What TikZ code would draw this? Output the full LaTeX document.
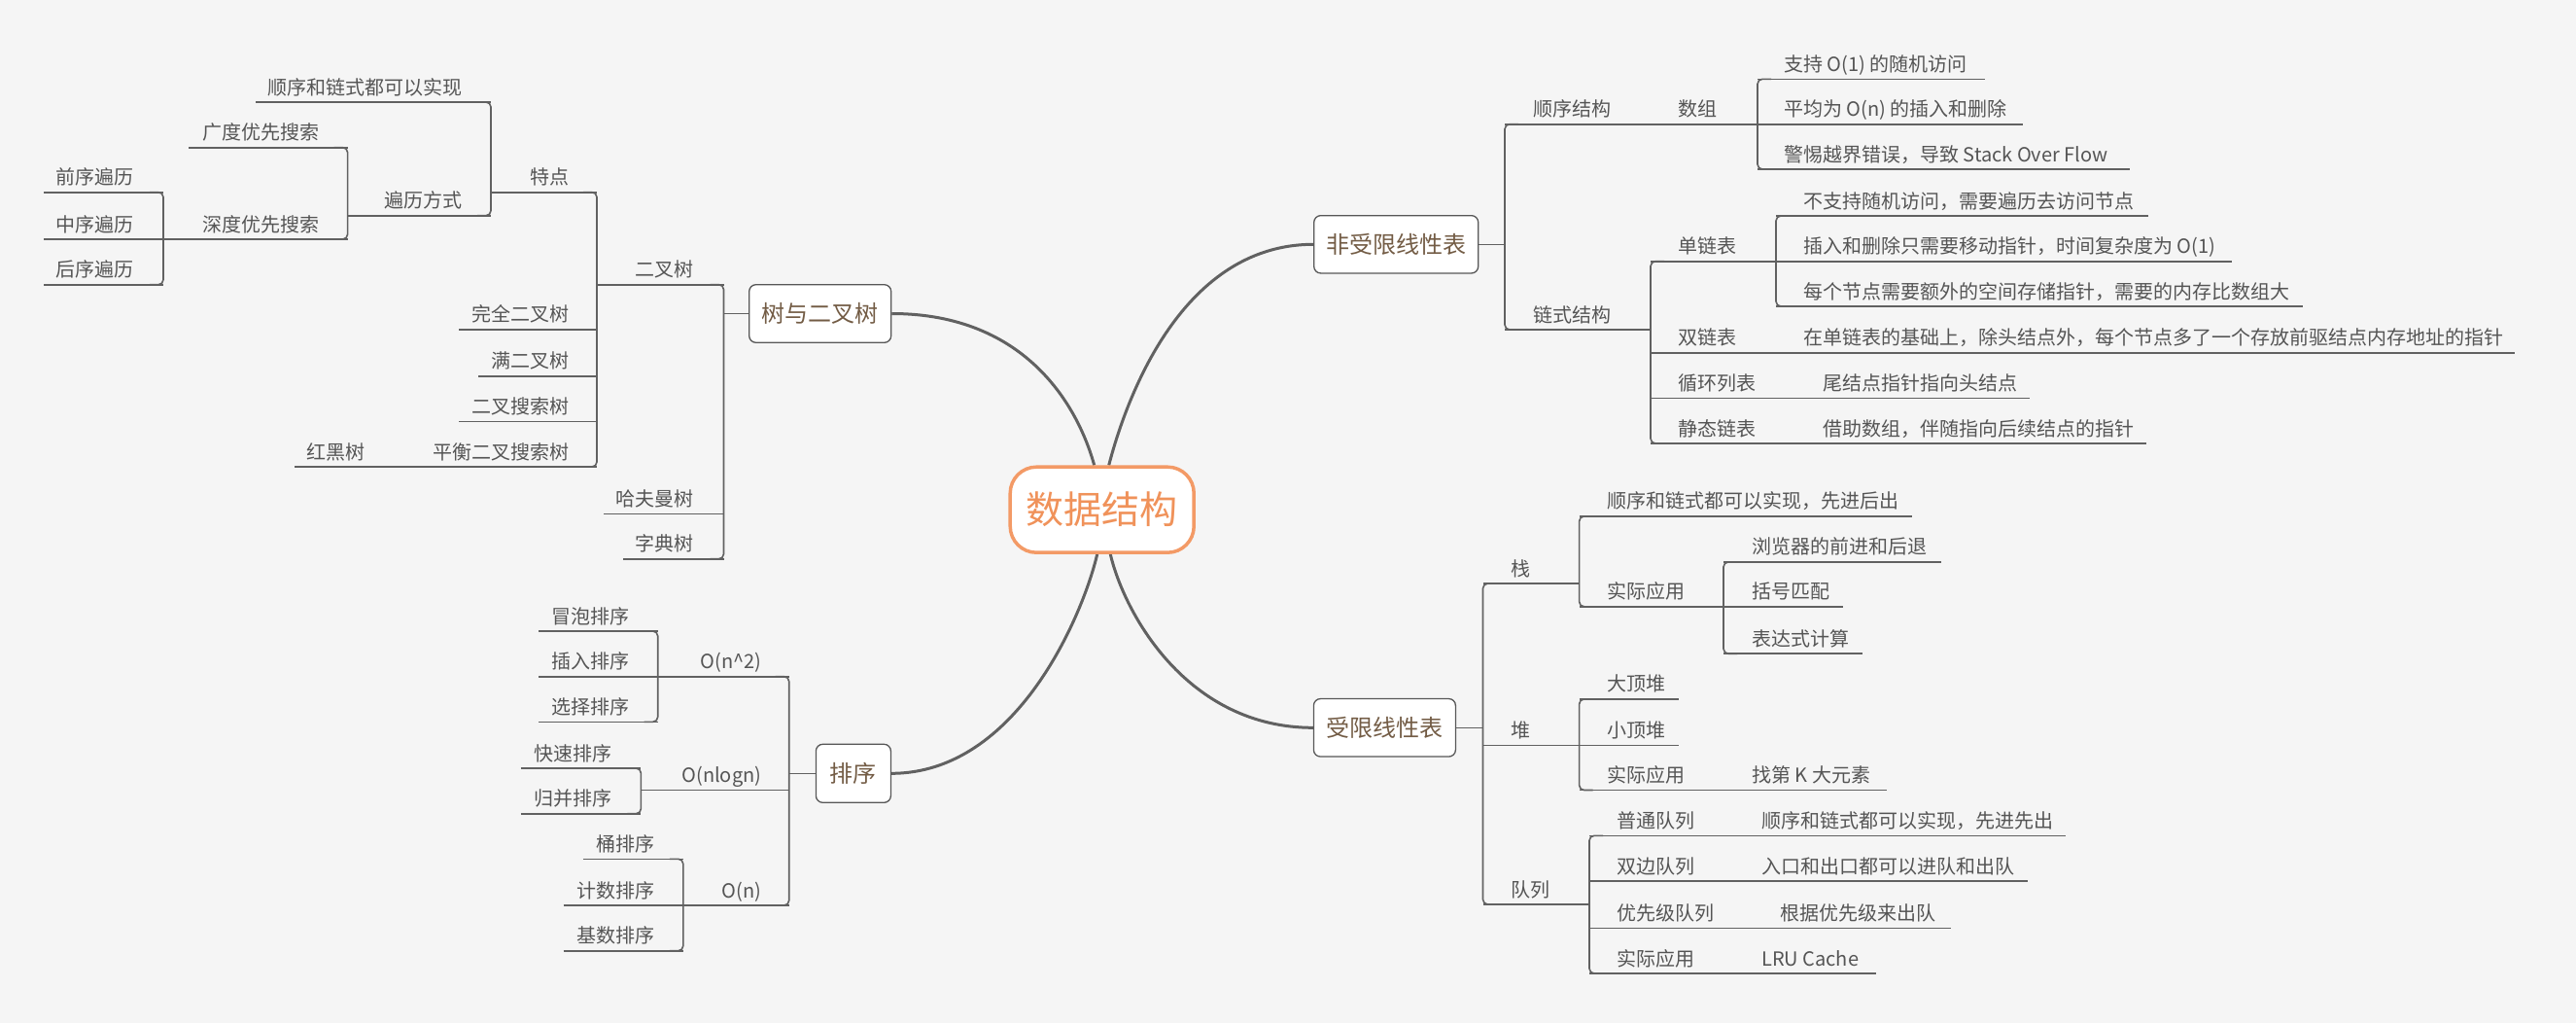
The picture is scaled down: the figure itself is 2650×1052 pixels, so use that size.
\documentclass[tikz,border=0pt]{standalone}
\usepackage{fontspec}
\setmainfont{Noto Sans CJK SC}
\definecolor{bgcol}{HTML}{F5F5F5}
\definecolor{lncol}{HTML}{616161}
\definecolor{txcol}{HTML}{555555}
\definecolor{brcol}{HTML}{735C45}
\definecolor{orcol}{HTML}{F39A66}
\definecolor{ortxt}{HTML}{F0925A}
\pgfdeclarelayer{back}
\pgfsetlayers{back,main}
\tikzset{
  lnk/.style={draw=lncol, line width=1.6pt},
  crv/.style={draw=lncol, line width=3pt},
  txt/.style={inner sep=0pt, text=txcol, font=\fontsize{20}{24}\selectfont},
  mainbox/.style={draw=lncol!90!black, line width=1.3pt, fill=white, rounded corners=7pt,
    text=brcol, font=\fontsize{24}{28}\selectfont, inner sep=0pt},
}
% right-side topic: name, x1, x2, y, text-left-x, text
\newcommand\topicR[6]{%
  \coordinate (#1-a) at (#2,#4);\coordinate (#1-b) at (#3,#4);
  \node[txt,anchor=base west] (#1) at (#5,#4-8) {#6};
  \draw[lnk] (#1-a) -- (#1-b);}
% left-side topic: name, x1, x2, y, text-right-x, text
\newcommand\topicL[6]{%
  \coordinate (#1-a) at (#2,#4);\coordinate (#1-b) at (#3,#4);
  \node[txt,anchor=base east] (#1) at (#5,#4-8) {#6};
  \draw[lnk] (#1-a) -- (#1-b);}
\newcommand\brR[2]{\draw[lnk,rounded corners=5pt] ([xshift=14pt]#1-a) -- (#1-a) -- (#2-a) -- ([xshift=14pt]#2-a);}
\newcommand\brL[2]{\draw[lnk,rounded corners=5pt] ([xshift=-14pt]#1-b) -- (#1-b) -- (#2-b) -- ([xshift=-14pt]#2-b);}
\begin{document}
\begin{tikzpicture}[x=1pt,y=-1pt]
\useasboundingbox (0,0) rectangle (2650,1052);

% central and main nodes
\node[draw=orcol, line width=3.5pt, fill=white, rounded corners=27pt, minimum width=189, minimum height=88,
  text=ortxt, font=\fontsize{39}{44}\selectfont, inner sep=0pt] (ds) at (1133.7,524.2) {数据结构};
\node[mainbox, minimum width=146, minimum height=59.6] (tree) at (843.7,322.5) {树与二叉树};
\node[mainbox, minimum width=169, minimum height=59.3] (lin) at (1436.2,251.3) {非受限线性表};
\node[mainbox, minimum width=77, minimum height=60] (sort) at (877.9,795.3) {排序};
\node[mainbox, minimum width=146, minimum height=59.5] (lim) at (1424.4,748.3) {受限线性表};

% ---------- right top: 非受限线性表
\topicR{sxjg}{1548}{1698}{127.7}{1577}{顺序结构}
\topicR{sz}{1698}{1808}{127.7}{1726}{数组}
\topicR{szA}{1808}{2042}{81.3}{1835}{支持 O(1) 的随机访问}
\topicR{szB}{1808}{2081}{127.7}{1835}{平均为 O(n) 的插入和删除}
\topicR{szC}{1808}{2191}{174}{1835}{警惕越界错误，导致 Stack Over Flow}
\brR{szA}{szC}
\topicR{lsjg}{1548}{1698}{339}{1577}{链式结构}
\brR{sxjg}{lsjg}
\topicR{dlb}{1698}{1827}{268.7}{1726}{单链表}
\topicR{dlbA}{1827}{2210}{222}{1855}{不支持随机访问，需要遍历去访问节点}
\topicR{dlbB}{1827}{2296}{268.7}{1855}{插入和删除只需要移动指针，时间复杂度为 O(1)}
\topicR{dlbC}{1827}{2369}{315}{1855}{每个节点需要额外的空间存储指针，需要的内存比数组大}
\brR{dlbA}{dlbC}
\topicR{slb}{1698}{1799}{362.7}{1726}{双链表}
\topicR{slbA}{1799}{2587}{362.7}{1855}{在单链表的基础上，除头结点外，每个节点多了一个存放前驱结点内存地址的指针}
\topicR{xhlb}{1698}{1819}{409.3}{1726}{循环列表}
\topicR{xhlbA}{1819}{2088}{409.3}{1875}{尾结点指针指向头结点}
\topicR{jtlb}{1698}{1819}{456}{1726}{静态链表}
\topicR{jtlbA}{1819}{2208}{456}{1875}{借助数组，伴随指向后续结点的指针}
\brR{dlb}{jtlb}
\draw[lnk] (lin.east) -- (lin.east -| sxjg-a);

% ---------- right bottom: 受限线性表
\topicR{zhan}{1525.5}{1624.6}{600}{1554}{栈}
\topicR{zhanA}{1624.6}{1967}{530.9}{1653.7}{顺序和链式都可以实现，先进后出}
\topicR{zhanB}{1624.6}{1773}{623.8}{1653.7}{实际应用}
\brR{zhanA}{zhanB}
\topicR{zyA}{1773}{1996.5}{577.9}{1802}{浏览器的前进和后退}
\topicR{zyB}{1773}{1896}{623.8}{1802}{括号匹配}
\topicR{zyC}{1773}{1916}{672.2}{1802}{表达式计算}
\brR{zyA}{zyC}
\topicR{dui}{1525.5}{1624.6}{766.6}{1554}{堆}
\topicR{duiA}{1624.6}{1727}{718.9}{1653.7}{大顶堆}
\topicR{duiB}{1624.6}{1727}{766.6}{1653.7}{小顶堆}
\topicR{duiC}{1624.6}{1745}{812.5}{1653.7}{实际应用}
\topicR{duiD}{1745}{1940.7}{812.5}{1802}{找第 K 大元素}
\brR{duiA}{duiC}
\topicR{dl}{1525.5}{1635}{930}{1554}{队列}
\topicR{dlA}{1635}{1756}{859.3}{1663}{普通队列}
\topicR{dlAx}{1756}{2125}{859.3}{1812}{顺序和链式都可以实现，先进先出}
\topicR{dlB}{1635}{1756}{906}{1663}{双边队列}
\topicR{dlBx}{1756}{2086}{906}{1812}{入口和出口都可以进队和出队}
\topicR{dlC}{1635}{1778}{954.3}{1663}{优先级队列}
\topicR{dlCx}{1778}{2007}{954.3}{1831.5}{根据优先级来出队}
\topicR{dlD}{1635}{1756}{1001}{1663}{实际应用}
\topicR{dlDx}{1756}{1930}{1001}{1812}{LRU Cache}
\brR{dlA}{dlD}
\brR{zhan}{dl}
\draw[lnk] (lim.east) -- (lim.east -| zhan-a);

% ---------- left top: 树与二叉树
\topicL{sxlx}{263}{505}{105}{475.3}{顺序和链式都可以实现}
\topicL{bl}{357.6}{505}{221.7}{475.3}{遍历方式}
\brL{sxlx}{bl}
\topicL{td}{505}{614}{197.7}{585.5}{特点}
\topicL{gd}{194}{357.6}{151.7}{328.4}{广度优先搜索}
\topicL{sd}{168}{357.6}{246}{328.4}{深度优先搜索}
\brL{gd}{sd}
\topicL{qx}{45}{168}{197.7}{137.8}{前序遍历}
\topicL{zx}{45}{168}{246}{137.8}{中序遍历}
\topicL{hx}{45}{168}{292.7}{137.8}{后序遍历}
\brL{qx}{hx}
\topicL{ecs}{614}{744.5}{292.7}{713.5}{二叉树}
\topicL{wq}{472}{614}{338.7}{585.5}{完全二叉树}
\topicL{mecs}{492}{614}{386.7}{585.5}{满二叉树}
\topicL{ss}{472}{614}{433.3}{585.5}{二叉搜索树}
\topicL{ph}{432}{614}{480}{585.5}{平衡二叉搜索树}
\topicL{hh}{303}{432}{480}{376}{红黑树}
\brL{td}{ph}
\topicL{hfm}{621}{744.5}{528.3}{713.5}{哈夫曼树}
\topicL{zds}{641}{744.5}{574.7}{713.5}{字典树}
\brL{ecs}{zds}
\draw[lnk] (tree.west) -- (tree.west -| ecs-b);

% ---------- left bottom: 排序
\topicL{onA}{676.7}{811.7}{695.7}{783.5}{O(n\textasciicircum 2)}
\topicL{onB}{659.4}{811.7}{812.3}{783.5}{O(nlogn)}
\topicL{onC}{702.8}{811.7}{931}{783.5}{O(n)}
\brL{onA}{onC}
\topicL{mp}{554}{676.7}{649}{648}{冒泡排序}
\topicL{cr}{554}{676.7}{695.7}{648}{插入排序}
\topicL{xz}{554}{676.7}{742.3}{648}{选择排序}
\brL{mp}{xz}
\topicL{ks}{535.8}{659.4}{790}{630}{快速排序}
\topicL{gb}{535.8}{659.4}{836.7}{630}{归并排序}
\brL{ks}{gb}
\topicL{tp}{599.8}{702.8}{883.3}{673.5}{桶排序}
\topicL{jsA}{579.7}{702.8}{931}{673.5}{计数排序}
\topicL{jsB}{579.7}{702.8}{977.7}{673.5}{基数排序}
\brL{tp}{jsB}
\draw[lnk] (sort.west) -- (sort.west -| onB-b);

% ---------- background and curves
\begin{pgfonlayer}{back}
\fill[bgcol] (0,0) rectangle (2650,1052);
\draw[crv] ([xshift=-8pt]ds.north) .. controls +(-16,-58) and +(140,0) .. (tree.east);
\draw[crv] ([xshift=7pt]ds.north) .. controls +(15,-58) and +(-140,0) .. (lin.west);
\draw[crv] ([xshift=-5pt]ds.south) .. controls +(-14,60) and +(130,0) .. (sort.east);
\draw[crv] ([xshift=8.6pt]ds.south) .. controls +(14,60) and +(-130,0) .. (lim.west);
\end{pgfonlayer}
\end{tikzpicture}
\end{document}
